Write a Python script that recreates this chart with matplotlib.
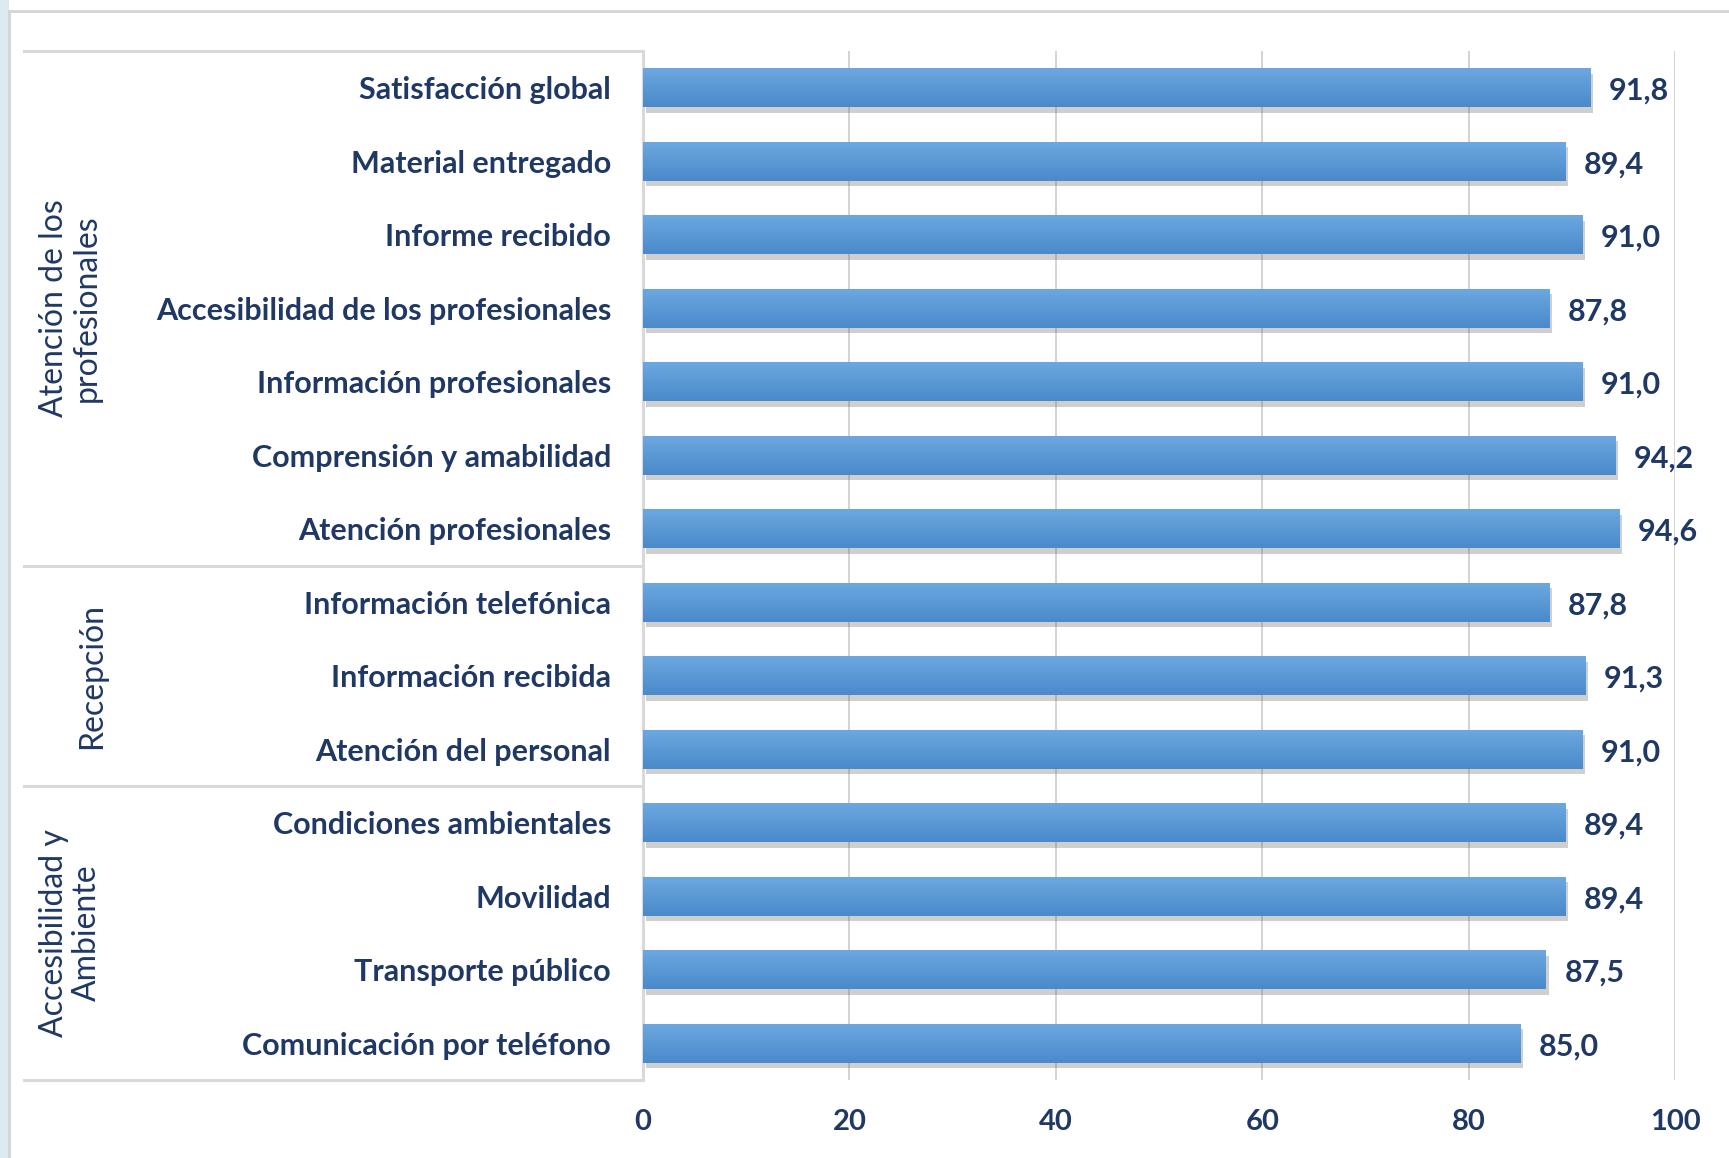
import numpy as np
import matplotlib.pyplot as plt
from matplotlib import patheffects as pe
from matplotlib.patches import Rectangle

categories = ["Satisfacción global", "Material entregado", "Informe recibido",
              "Accesibilidad de los profesionales", "Información profesionales",
              "Comprensión y amabilidad", "Atención profesionales",
              "Información telefónica", "Información recibida", "Atención del personal",
              "Condiciones ambientales", "Movilidad", "Transporte público",
              "Comunicación por teléfono"]
values = [91.8, 89.4, 91.0, 87.8, 91.0, 94.2, 94.6,
          87.8, 91.3, 91.0,
          89.4, 89.4, 87.5, 85.0]
groups = ["Atención de los\nprofesionales", "Recepción", "Accesibilidad y\nAmbiente"]
group_sizes = [7, 3, 4]
x_ticks = [0, 20, 40, 60, 80, 100]

navy = '#1F3864'
plt.rcParams['font.family'] = ['Lato', 'DejaVu Sans']

fig = plt.figure(figsize=(17.29, 11.58), dpi=100)
fig.patch.set_facecolor('white')
# slide-like frame
fig.patches.append(Rectangle((0, 0), 9/1729, 1, transform=fig.transFigure,
                             facecolor='#DCEBF2', edgecolor='none', zorder=-10))
fig.patches.append(Rectangle((9/1729, -0.01), 1, 1 - 11/1158 + 0.01, transform=fig.transFigure,
                             facecolor='white', edgecolor='#D4D4D4', lw=2, zorder=-10))

ax = fig.add_axes([643/1729, 1 - 1080/1158, (1675 - 643)/1729, (1080 - 51)/1158])
ax.set_facecolor('none')

y = np.arange(len(categories))
bars = ax.barh(y, values, height=0.53, color='#5499D8', zorder=3,
               path_effects=[pe.SimplePatchShadow(offset=(2, -4), shadow_rgbFace='#606060', alpha=0.3),
                             pe.Normal()])

# vertical gradient inside each bar
grad = np.linspace(0, 1, 64).reshape(-1, 1)
cmap = plt.matplotlib.colors.LinearSegmentedColormap.from_list('b', ['#6CA8E0', '#4A8ACB'])
for b in bars:
    x0, y0 = b.get_x(), b.get_y()
    im = ax.imshow(grad, extent=[x0, x0 + b.get_width(), y0 + b.get_height(), y0],
                   cmap=cmap, aspect='auto', zorder=4, interpolation='bicubic')
    im.set_clip_path(b)

for yi, v in zip(y, values):
    ax.text(v + 1.8, yi + 0.04, f"{v:.1f}".replace('.', ','), va='center', ha='left',
            fontsize=22, fontweight='bold', color=navy, zorder=5)

ax.set_xlim(0, 100)
ax.set_ylim(len(categories) - 0.5, -0.5)
ax.set_xticks(x_ticks)
ax.set_xticklabels([str(t) for t in x_ticks], fontsize=21, fontweight='bold', color=navy)
ax.set_yticks(y)
ax.set_yticklabels(categories, fontsize=22, fontweight='bold', color=navy)
ax.tick_params(axis='x', length=0, pad=21)
ax.tick_params(axis='y', length=0, pad=23)
for s in ax.spines.values():
    s.set_visible(False)
ax.grid(axis='x', color='#D0D0D0', lw=1.3, zorder=0)
ax.set_axisbelow(True)

# category box and group separators
tr = ax.get_yaxis_transform()
box_left = (24 - 643) / (1675 - 643)
line_kw = dict(color='#D9D9D9', lw=2.2, clip_on=False, transform=tr, zorder=1)
ax.plot([0, 0], [-0.5, len(categories) - 0.5], **line_kw)
bounds = np.concatenate([[0], np.cumsum(group_sizes)]) - 0.5
for b in bounds:
    ax.plot([box_left, 0], [b, b], **line_kw)

gx = [-0.555, -0.534, -0.555]
for g, lo, hi, xx in zip(groups, bounds[:-1], bounds[1:], gx):
    ax.text(xx, (lo + hi) / 2, g, rotation=90, ha='center', va='center',
            fontsize=23, color=navy, transform=tr, linespacing=1.1)

fig.savefig('out.png', dpi=100)
